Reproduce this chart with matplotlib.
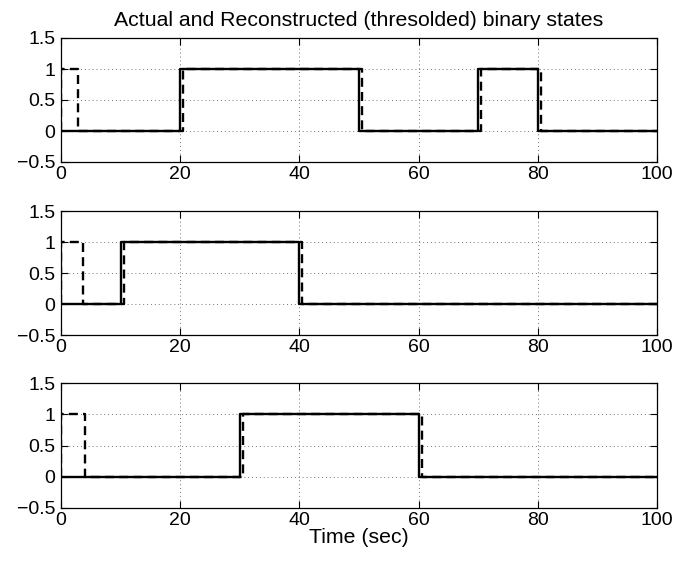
import matplotlib.pyplot as plt

# step times and levels (actual = solid, reconstructed = dashed)
actual_t = [
    [0, 20, 50, 70, 80, 100],
    [0, 10, 40, 100],
    [0, 30, 60, 100],
]
actual_y = [
    [0, 1, 0, 1, 0, 0],
    [0, 1, 0, 0],
    [0, 1, 0, 0],
]
recon_t = [
    [0, 0.01, 2.9, 20.5, 50.5, 70.5, 80.5, 100],
    [0, 0.01, 3.7, 10.5, 40.5, 100],
    [0, 0.01, 4.1, 30.6, 60.6, 100],
]
recon_y = [
    [0, 1, 0, 1, 0, 1, 0, 0],
    [0, 1, 0, 1, 0, 0],
    [0, 1, 0, 1, 0, 0],
]

xticks = [0, 20, 40, 60, 80, 100]
yticks = [-0.5, 0, 0.5, 1, 1.5]
ytick_labels = ['\u22120.5', '0', '0.5', '1', '1.5']

plt.rcParams['font.family'] = ['Liberation Sans', 'DejaVu Sans']
plt.rcParams['font.size'] = 14

fig = plt.figure(figsize=(6.77, 5.65), dpi=100)
W, H = 677.0, 565.0
left, right = 61, 657
panels = [(38, 162), (211, 335), (383, 508)]

for i, (top, bot) in enumerate(panels):
    ax = fig.add_axes([left / W, 1 - bot / H, (right - left) / W, (bot - top) / H])
    ax.step(actual_t[i], actual_y[i], where='post', color='k', lw=1.7)
    ax.step(recon_t[i], recon_y[i], where='post', color='k', lw=1.7,
            linestyle=(0, (3.8, 2.2)))
    ax.set_xlim(0, 100)
    ax.set_ylim(-0.5, 1.5)
    ax.set_xticks(xticks)
    ax.set_xticklabels([str(v) for v in xticks])
    ax.set_yticks(yticks)
    ax.set_yticklabels(ytick_labels)
    ax.grid(True, linestyle=(0, (1, 3)), color='0.45', lw=0.7)
    ax.tick_params(direction='in', top=True, right=True, length=5, width=0.8)
    ax.tick_params(axis='y', pad=4)
    ax.tick_params(axis='x', pad=3)
    for s in ax.spines.values():
        s.set_linewidth(0.9)
    if i == 0:
        ax.set_title('Actual and Reconstructed (thresolded) binary states',
                     fontsize=15.3, pad=9)
    if i == 2:
        ax.set_xlabel('Time (sec)', fontsize=15.3, labelpad=-1)

fig.savefig('out.png', dpi=100)
